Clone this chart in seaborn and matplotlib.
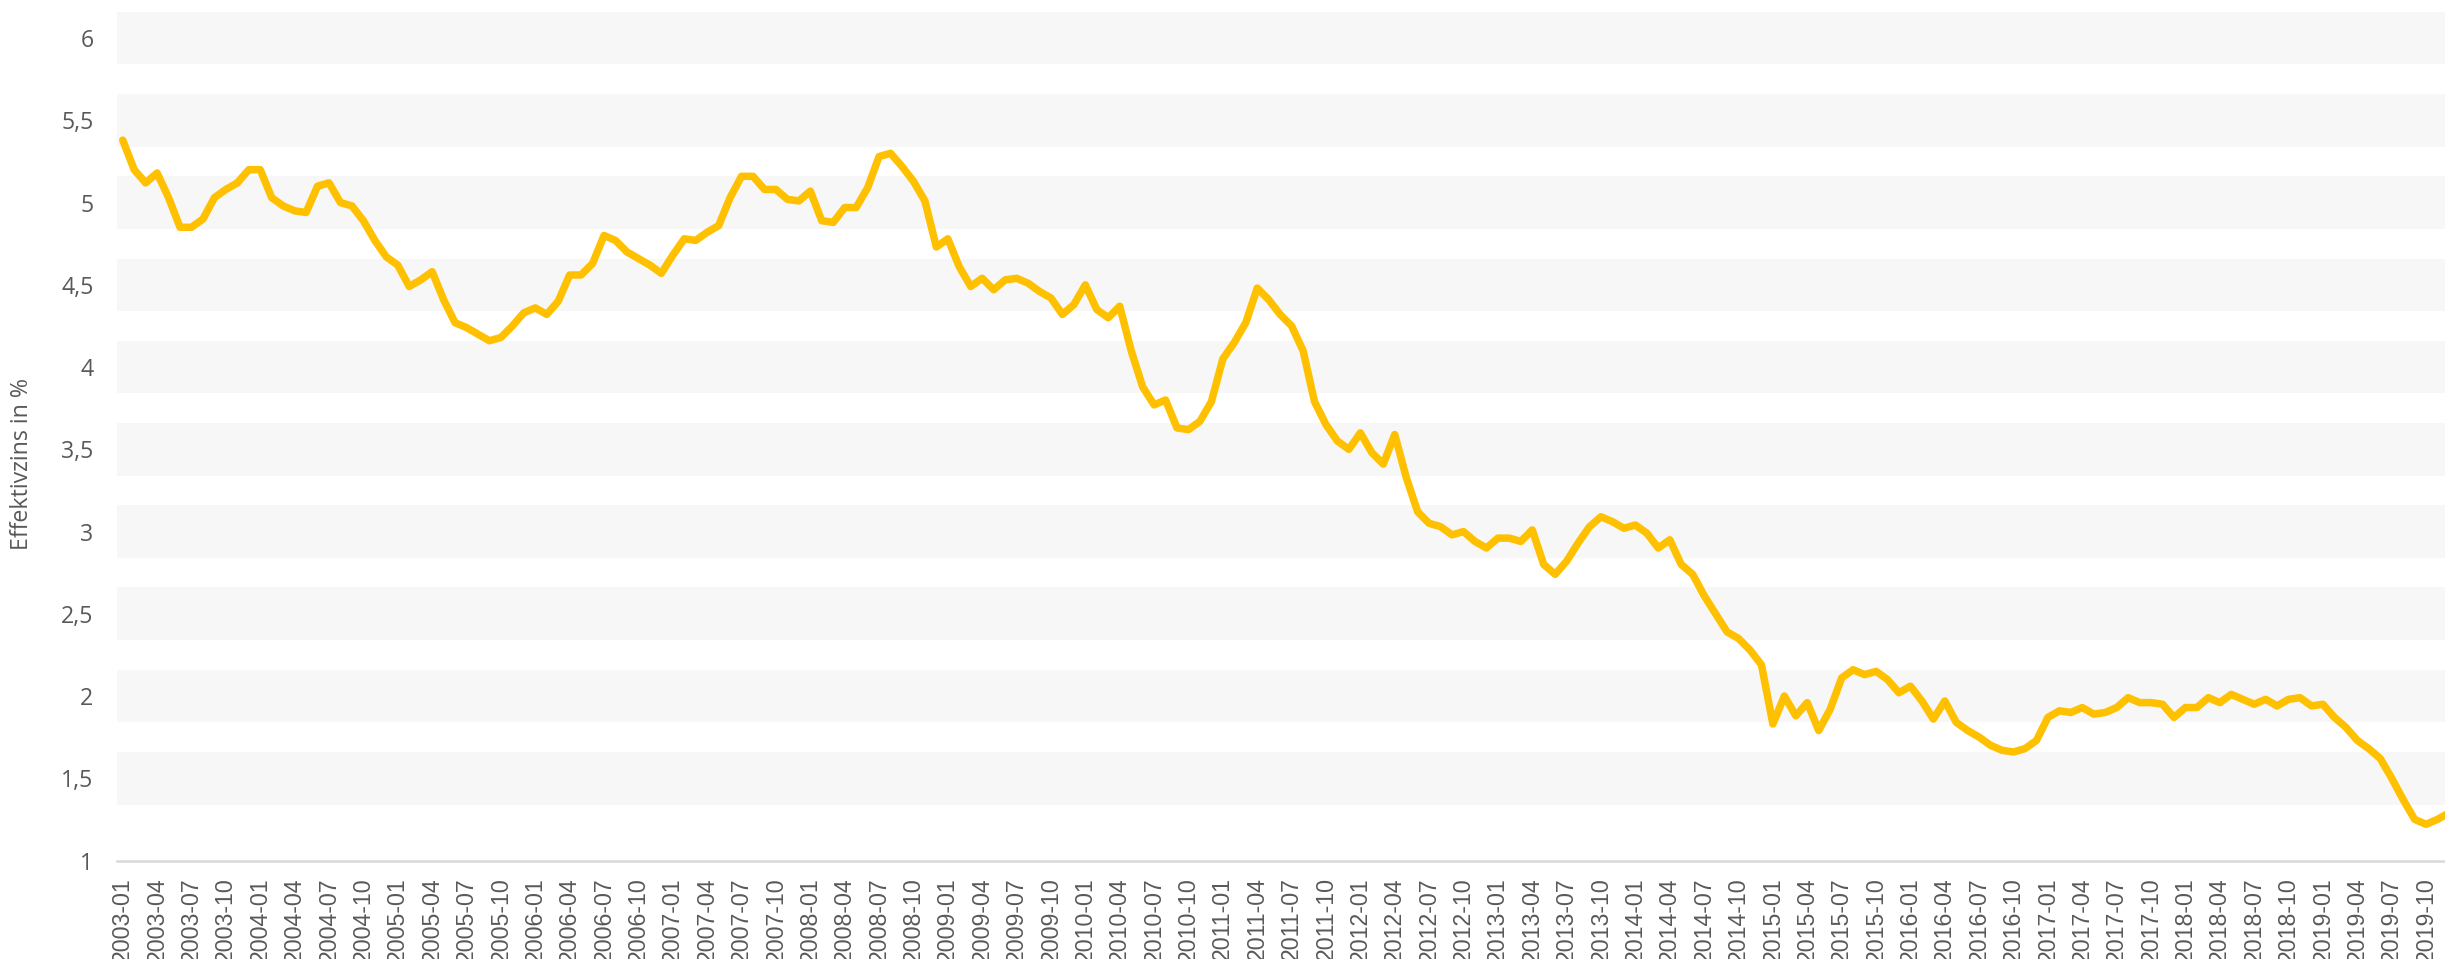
import numpy as np
import pandas as pd
import seaborn as sns
from matplotlib import pyplot as plt

# monthly effective interest rate in %, 2003-01 .. 2019-12
zins = [
    5.38, 5.20, 5.12, 5.18, 5.03, 4.85, 4.85, 4.90, 5.03, 5.08, 5.12, 5.20,
    5.20, 5.03, 4.98, 4.95, 4.94, 5.10, 5.12, 5.00, 4.98, 4.89, 4.77, 4.67,
    4.62, 4.49, 4.53, 4.58, 4.41, 4.27, 4.24, 4.20, 4.16, 4.18, 4.25, 4.33,
    4.36, 4.32, 4.40, 4.56, 4.56, 4.63, 4.80, 4.77, 4.70, 4.66, 4.62, 4.57,
    4.68, 4.78, 4.77, 4.82, 4.86, 5.03, 5.16, 5.16, 5.08, 5.08, 5.02, 5.01,
    5.07, 4.89, 4.88, 4.97, 4.97, 5.09, 5.28, 5.30, 5.22, 5.13, 5.01, 4.73,
    4.78, 4.61, 4.49, 4.54, 4.47, 4.53, 4.54, 4.51, 4.46, 4.42, 4.32, 4.38,
    4.50, 4.35, 4.30, 4.37, 4.10, 3.88, 3.77, 3.80, 3.63, 3.62, 3.67, 3.79,
    4.05, 4.15, 4.27, 4.48, 4.41, 4.32, 4.25, 4.10, 3.79, 3.65, 3.55, 3.50,
    3.60, 3.48, 3.41, 3.59, 3.33, 3.12, 3.05, 3.03, 2.98, 3.00, 2.94, 2.90,
    2.96, 2.96, 2.94, 3.01, 2.80, 2.74, 2.82, 2.93, 3.03, 3.09, 3.06, 3.02,
    3.04, 2.99, 2.90, 2.95, 2.80, 2.74, 2.61, 2.50, 2.39, 2.35, 2.28, 2.19,
    1.83, 2.00, 1.88, 1.96, 1.79, 1.92, 2.11, 2.16, 2.13, 2.15, 2.10, 2.02,
    2.06, 1.97, 1.86, 1.97, 1.84, 1.79, 1.75, 1.70, 1.67, 1.66, 1.68, 1.73,
    1.87, 1.91, 1.90, 1.93, 1.89, 1.90, 1.93, 1.99, 1.96, 1.96, 1.95, 1.87,
    1.93, 1.93, 1.99, 1.96, 2.01, 1.98, 1.95, 1.98, 1.94, 1.98, 1.99, 1.94,
    1.95, 1.87, 1.81, 1.73, 1.68, 1.62, 1.50, 1.37, 1.25, 1.22, 1.25, 1.29,
]
monate = pd.date_range("2003-01", periods=len(zins), freq="MS").strftime("%Y-%m").tolist()
y_ticks = [1, 1.5, 2, 2.5, 3, 3.5, 4, 4.5, 5, 5.5, 6]
y_labels = ["1", "1,5", "2", "2,5", "3", "3,5", "4", "4,5", "5", "5,5", "6"]

df = pd.DataFrame({"pos": np.arange(len(zins)), "monat": monate, "zins": zins})

sns.set_theme(style="white")
plt.rcParams["font.family"] = ["Open Sans", "DejaVu Sans"]

fig = plt.figure(figsize=(24.45, 9.59), dpi=100)
ax = fig.add_axes([117 / 2445, (959 - 860.5) / 959, 1 - 117 / 2445, (860.5 - 11) / 959])

# grey bands around each gridline
for t in y_ticks[1:]:
    ax.axhspan(t - 0.16, t + 0.16, color="#F7F7F7", lw=0, zorder=0)

sns.lineplot(data=df, x="pos", y="zins", ax=ax, color="#FFC000", linewidth=5.4, zorder=3)
for ln in ax.lines:
    ln.set_solid_joinstyle("round")
    ln.set_solid_capstyle("round")

ax.set_xlim(-0.5, 202.65)
ax.set_ylim(1, 6.165)

ax.set_xticks(df["pos"][::3])
ax.set_xticklabels(df["monat"][::3], rotation=90, fontsize=16.7, color="#595959",
                   family=["Liberation Sans", "DejaVu Sans"])
ax.set_yticks(y_ticks)
ax.set_yticklabels(y_labels, fontsize=16.7, color="#595959")
ax.tick_params(axis="x", length=0, pad=12)
ax.tick_params(axis="y", length=0, pad=17)

for s in ["top", "right", "left"]:
    ax.spines[s].set_visible(False)
ax.spines["bottom"].set_color("#D9D9D9")
ax.spines["bottom"].set_linewidth(1.8)

ax.set_xlabel("")
ax.set_ylabel("")
fig.text(22 / 2445, 1 - 464 / 959, "Effektivzins in %", rotation=90, ha="center", va="center",
         fontsize=16.7, color="#595959")

plt.savefig("out.png", dpi=100)
